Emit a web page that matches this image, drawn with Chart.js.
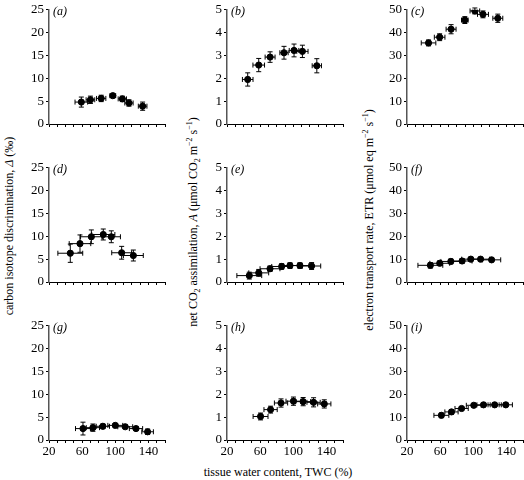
<!DOCTYPE html>
<html>
<head>
<meta charset="utf-8">
<script src="https://cdn.jsdelivr.net/npm/chart.js@4"></script>
<style>
  html, body { margin: 0; padding: 0; background: #fff; overflow: hidden; }
  #page { position: relative; width: 524px; height: 480px; font-family: 'Liberation Serif', 'DejaVu Serif', serif; }
  .panel { position: absolute; }
  .ytitle { position: absolute; font-size: 12px; white-space: nowrap; color: #000;
    transform: translate(-50%, -50%) rotate(-90deg); }
  .xtitle { position: absolute; font-size: 12px; white-space: nowrap; color: #000; transform: translate(-50%, -50%); }
  sub, sup { font-size: 8px; line-height: 0; }
</style>
</head>
<body>
<div id="page">
  <div class="ytitle" style="left:9px; top:226px;">carbon isotope discrimination, <i>Δ</i> (‰)</div>
  <div class="ytitle" style="left:193px; top:222px;">net CO<sub>2</sub> assimilation, <i>A</i> (μmol CO<sub>2</sub> m<sup>−2</sup> s<sup>−1</sup>)</div>
  <div class="ytitle" style="left:369px; top:220px;">electron transport rate, ETR (μmol eq m<sup>−2</sup> s<sup>−1</sup>)</div>
  <div class="xtitle" style="left:278px; top:472px;">tissue water content, TWC (%)</div>
</div>

<script>
// x axis: tissue water content (%)
const twcMin = 20;
const twcMax = 160;
const twcTickLabels = [20, 60, 100, 140];

// y axis ranges per column
const deltaTicks = [0, 5, 10, 15, 20, 25];
const assimTicks = [0, 1, 2, 3, 4, 5];
const etrTicks = [0, 10, 20, 30, 40, 50];

// (a) discrimination
const twcA = [59, 70, 83, 97, 108.5, 116.5, 133];
const valA = [4.8, 5.3, 5.6, 6.2, 5.5, 4.6, 3.9];
const twcErrA = [7.6, 5.2, 5.6, 3.5, 5, 5, 5.2];
const valErrA = [1.1, 0.8, 0.7, 0.3, 0.6, 0.7, 0.9];

// (b) assimilation
const twcB = [45, 58.3, 72, 88.8, 100.9, 111, 128.4];
const valB = [1.95, 2.58, 2.93, 3.12, 3.22, 3.18, 2.55];
const twcErrB = [6.4, 7, 6, 5, 5.8, 6.8, 5.6];
const valErrB = [0.29, 0.29, 0.23, 0.28, 0.28, 0.27, 0.31];

// (c) ETR
const twcC = [46, 59.4, 73.2, 89.8, 101.9, 111.7, 129.6];
const valC = [35.5, 38, 41.5, 45.5, 49.5, 48, 46.3];
const twcErrC = [8.8, 6.4, 6, 4, 5.8, 6.6, 6];
const valErrC = [1.3, 1.5, 2, 1.5, 1.3, 1.5, 1.8];

// (d) discrimination
const twcD = [45.7, 57.4, 71.1, 85.5, 95.2, 107.7, 121.8];
const valD = [6.3, 8.4, 9.9, 10.4, 9.9, 6.4, 5.8];
const twcErrD = [15, 13, 13, 14, 11, 12, 12];
const valErrD = [2.0, 1.9, 1.5, 1.2, 1.3, 1.4, 1.2];

// (e) assimilation
const twcE = [46.9, 58.3, 71.9, 86, 96, 108, 122.1];
const valE = [0.28, 0.4, 0.58, 0.68, 0.72, 0.72, 0.7];
const twcErrE = [15, 12, 12, 12, 11, 11, 11];
const valErrE = [0.15, 0.15, 0.12, 0.12, 0.12, 0.12, 0.15];

// (f) ETR
const twcF = [48.2, 59.5, 72.9, 86.5, 97, 108.8, 122.1];
const valF = [7.3, 8.2, 9, 9.2, 10, 10, 9.7];
const twcErrF = [15, 12, 12, 12, 11, 11, 11];
const valErrF = [1.2, 1, 1, 1, 0.8, 0.8, 0.8];

// (g) discrimination
const twcG = [61, 73, 85, 100, 112, 125, 139];
const valG = [2.5, 2.7, 3.0, 3.2, 2.9, 2.5, 1.8];
const twcErrG = [9, 8, 8, 9, 9, 8, 7];
const valErrG = [1.4, 0.8, 0.5, 0.4, 0.4, 0.4, 0.6];

// (h) assimilation
const twcH = [60.5, 72.6, 85.2, 100.2, 111.9, 124.5, 137.4];
const valH = [1.03, 1.33, 1.62, 1.7, 1.68, 1.65, 1.58];
const twcErrH = [9, 8, 8, 9, 9, 8, 8];
const valErrH = [0.15, 0.15, 0.18, 0.18, 0.18, 0.2, 0.18];

// (i) ETR
const twcI = [61.5, 73.7, 85.9, 100.6, 112.4, 125.8, 139.2];
const valI = [10.8, 12.3, 13.8, 15.2, 15.4, 15.4, 15.4];
const twcErrI = [9, 8, 8, 9, 8, 8, 8];
const valErrI = [1, 1, 0.8, 0.8, 0.8, 0.8, 0.8];

const FONT = "'Liberation Serif', 'DejaVu Serif', serif";

// plot area geometry
const colLeft = [49, 227, 407];
const rowTop = [9, 167, 325];
const plotW = 116;
const plotH = 115;
const yAxisW = 36;
const xAxisH = 24;
const padTop = 9;
const padRight = 6;

/**
 * Draw x and y error bars with caps under the points
 */
const errorBars = {
  id: 'errorBars',
  beforeDatasetsDraw(chart) {
    const eb = chart.options.plugins.errorBars;
    if (!eb) return;
    const { ctx, scales: { x, y } } = chart;
    const cap = 2.5;
    ctx.save();
    ctx.strokeStyle = '#000';
    ctx.lineWidth = 1;
    eb.xs.forEach((xv, i) => {
      const px = x.getPixelForValue(xv);
      const py = y.getPixelForValue(eb.ys[i]);
      const x0 = x.getPixelForValue(xv - eb.xErr[i]);
      const x1 = x.getPixelForValue(xv + eb.xErr[i]);
      const y0 = y.getPixelForValue(eb.ys[i] - eb.yErr[i]);
      const y1 = y.getPixelForValue(eb.ys[i] + eb.yErr[i]);
      ctx.beginPath();
      ctx.moveTo(x0, py); ctx.lineTo(x1, py);
      ctx.moveTo(x0, py - cap); ctx.lineTo(x0, py + cap);
      ctx.moveTo(x1, py - cap); ctx.lineTo(x1, py + cap);
      ctx.moveTo(px, y0); ctx.lineTo(px, y1);
      ctx.moveTo(px - cap, y0); ctx.lineTo(px + cap, y0);
      ctx.moveTo(px - cap, y1); ctx.lineTo(px + cap, y1);
      ctx.stroke();
    });
    ctx.restore();
  },
};

/**
 * Panel letter in the top left corner
 */
const panelLetter = {
  id: 'panelLetter',
  afterDraw(chart) {
    const txt = chart.options.plugins.panelLetter.text;
    const { ctx, chartArea } = chart;
    ctx.save();
    ctx.font = `italic 12px ${FONT}`;
    ctx.fillStyle = '#000';
    ctx.textBaseline = 'top';
    ctx.fillText(txt, chartArea.left + 4, chartArea.top - 4);
    ctx.restore();
  },
};

function makePanel(row, col, letter, xs, ys, xErr, yErr, yTicks) {
  const page = document.getElementById('page');
  const box = document.createElement('div');
  box.className = 'panel';
  const w = yAxisW + plotW + padRight;
  const h = padTop + plotH + xAxisH;
  box.style.left = (colLeft[col] - yAxisW) + 'px';
  box.style.top = (rowTop[row] - padTop) + 'px';
  box.style.width = w + 'px';
  box.style.height = h + 'px';
  const canvas = document.createElement('canvas');
  box.appendChild(canvas);
  page.appendChild(box);

  const showLabels = row === 2;
  const yMax = yTicks[yTicks.length - 1];

  new Chart(canvas, {
    type: 'scatter',
    data: {
      datasets: [{
        data: xs.map((xv, i) => ({ x: xv, y: ys[i] })),
        backgroundColor: '#000',
        borderColor: '#000',
        borderWidth: 1,
        pointRadius: 3.1,
        pointHoverRadius: 3.1,
      }],
    },
    options: {
      responsive: true,
      maintainAspectRatio: false,
      animation: false,
      layout: { padding: { top: padTop, right: padRight, left: 0, bottom: 0 } },
      plugins: {
        legend: { display: false },
        tooltip: { enabled: false },
        errorBars: { xs, ys, xErr, yErr },
        panelLetter: { text: letter },
      },
      scales: {
        x: {
          type: 'linear',
          min: twcMin,
          max: twcMax,
          afterFit: (s) => { s.height = xAxisH; },
          border: { color: '#000', width: 1 },
          grid: { drawOnChartArea: false, tickLength: 3, color: '#000' },
          ticks: {
            stepSize: 10,
            autoSkip: false,
            maxRotation: 0,
            padding: 1,
            color: '#000',
            font: { family: FONT, size: 13 },
            callback: (v) => (showLabels && twcTickLabels.includes(v) ? String(v) : ''),
          },
        },
        y: {
          type: 'linear',
          min: 0,
          max: yMax,
          afterFit: (s) => { s.width = yAxisW; },
          afterBuildTicks: (s) => { s.ticks = yTicks.map((v) => ({ value: v })); },
          border: { color: '#555', width: 1.5 },
          grid: { drawOnChartArea: false, tickLength: 3, color: '#000' },
          ticks: {
            padding: 2,
            color: '#000',
            font: { family: FONT, size: 13 },
          },
        },
      },
    },
    plugins: [errorBars, panelLetter],
  });
}

makePanel(0, 0, '(a)', twcA, valA, twcErrA, valErrA, deltaTicks);
makePanel(0, 1, '(b)', twcB, valB, twcErrB, valErrB, assimTicks);
makePanel(0, 2, '(c)', twcC, valC, twcErrC, valErrC, etrTicks);
makePanel(1, 0, '(d)', twcD, valD, twcErrD, valErrD, deltaTicks);
makePanel(1, 1, '(e)', twcE, valE, twcErrE, valErrE, assimTicks);
makePanel(1, 2, '(f)', twcF, valF, twcErrF, valErrF, etrTicks);
makePanel(2, 0, '(g)', twcG, valG, twcErrG, valErrG, deltaTicks);
makePanel(2, 1, '(h)', twcH, valH, twcErrH, valErrH, assimTicks);
makePanel(2, 2, '(i)', twcI, valI, twcErrI, valErrI, etrTicks);
</script>
</body>
</html>
